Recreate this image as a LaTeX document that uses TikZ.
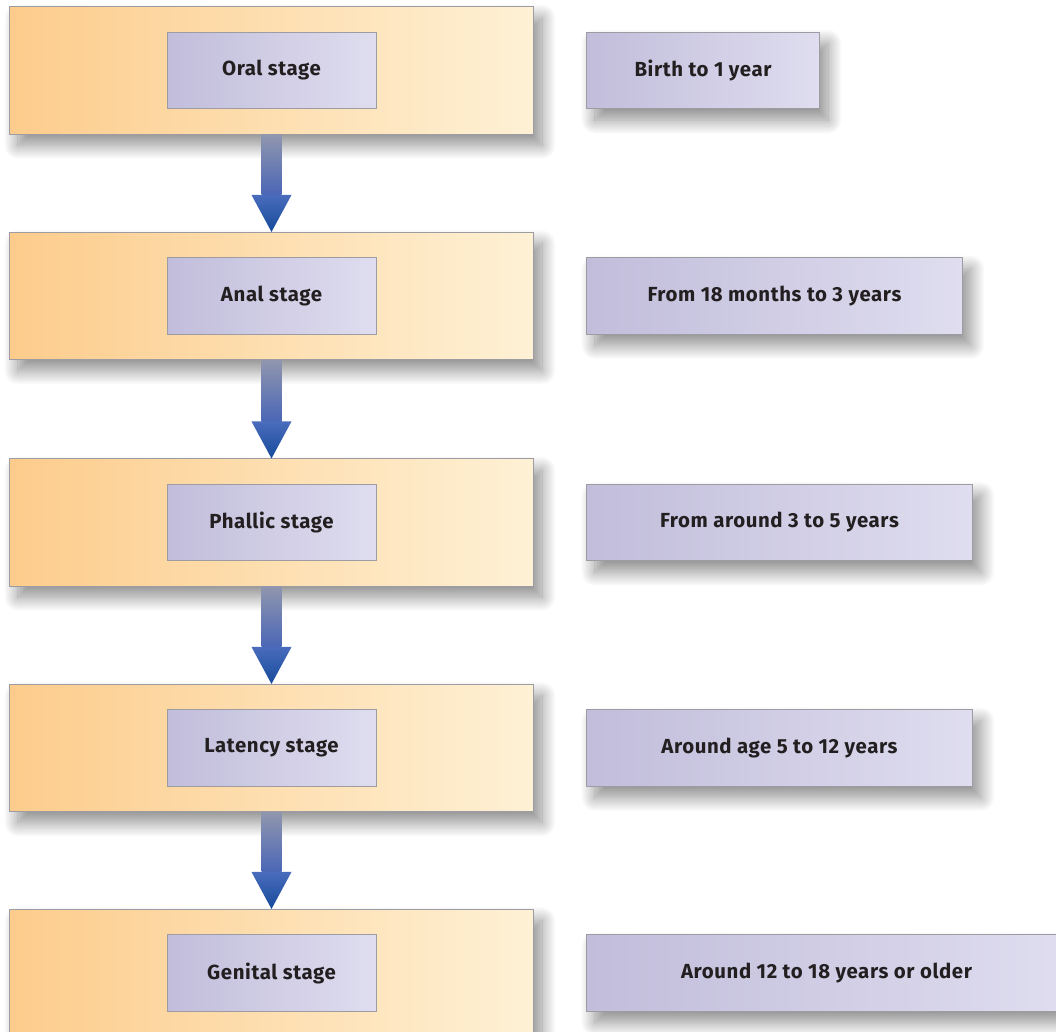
\documentclass[tikz,border=0pt]{standalone}
\usepackage{fontspec}
\setmainfont{Fira Sans}[LetterSpace=3]
\usetikzlibrary{positioning, calc, shadows.blur}

\definecolor{orangeL}{HTML}{FDCC8C}
\definecolor{orangeM}{HTML}{FDD193}
\definecolor{orangeR}{HTML}{FEF1D5}
\definecolor{lilacL}{HTML}{C1BDDB}
\definecolor{lilacR}{HTML}{DFDDEF}
\definecolor{frame}{HTML}{9C9CA2}
\definecolor{shaftT}{HTML}{9096AE}
\definecolor{shaftM}{HTML}{98A0CC}
\definecolor{shaftB}{HTML}{4A66B6}
\definecolor{headT}{HTML}{4A6CBC}
\definecolor{headB}{HTML}{164A9B}
\definecolor{ink}{HTML}{231F20}

\begin{document}
\begin{tikzpicture}[x=0.025cm, y=-0.025cm,
    % Node styles
    stagebox/.style={rectangle, draw=frame, line width=0.6pt,
                     left color=orangeL, middle color=orangeM, right color=orangeR,
                     minimum width=13.1cm, minimum height=3.18cm,
                     blur shadow={shadow xshift=6pt, shadow yshift=-8pt,
                                  shadow blur radius=10pt, shadow blur steps=25,
                                  shadow opacity=45}},
    stagename/.style={rectangle, draw=frame, line width=0.6pt,
                      left color=lilacL, right color=lilacR,
                      minimum width=5.22cm, minimum height=1.92cm,
                      text=ink, font=\fontsize{14.5}{16}\selectfont\bfseries},
    agebox/.style={rectangle, draw=frame, line width=0.6pt, anchor=west,
                   left color=lilacL, right color=lilacR, minimum height=1.92cm,
                   text=ink, font=\fontsize{14.5}{16}\selectfont\bfseries,
                   blur shadow={shadow xshift=6pt, shadow yshift=-8pt,
                                shadow blur radius=10pt, shadow blur steps=25,
                                shadow opacity=45}},
    shaft/.style={top color=shaftT, middle color=shaftM, bottom color=shaftB},
    head/.style={top color=headT, bottom color=headB}
]
\useasboundingbox (0,0) rectangle (1056,1031);
\clip (0,0) rectangle (1056,1031);

% Stages
\node[stagebox] (oral)    at (271.5,70.5)  {};
\node[stagebox] (anal)    at (271.5,296)   {};
\node[stagebox] (phallic) at (271.5,522.5) {};
\node[stagebox] (latency) at (271.5,748)   {};
\node[stagebox] (genital) at (271.5,973)   {};

% Stage names
\node[stagename] (oralname)    at (oral)    {Oral stage};
\node[stagename] (analname)    at (anal)    {Anal stage};
\node[stagename] (phallicname) at (phallic) {Phallic stage};
\node[stagename] (latencyname) at (latency) {Latency stage};
\node[stagename] (genitalname) at (genital) {Genital stage};

% Ages
\node[agebox, minimum width=5.83cm]  (oralage)    at (586,70.5)  {Birth to 1 year};
\node[agebox, minimum width=9.4cm]   (analage)    at (586,296)   {From 18 months to 3 years};
\node[agebox, minimum width=9.65cm]  (phallicage) at (586,522.5) {From around 3 to 5 years};
\node[agebox, minimum width=9.65cm]  (latencyage) at (586,748)   {Around age 5 to 12 years};
\node[agebox, minimum width=12cm]    (genitalage) at (586,973)   {Around 12 to 18 years or older};

% Arrows
\shade[shaft] ($(oral.south)+(-10,0)$) rectangle ($(anal.north)+(10,-37)$);
\shade[head]  ($(anal.north)+(-20,-37)$) -- ($(anal.north)+(20,-37)$) -- (anal.north) -- cycle;
\shade[shaft] ($(anal.south)+(-10,0)$) rectangle ($(phallic.north)+(10,-37)$);
\shade[head]  ($(phallic.north)+(-20,-37)$) -- ($(phallic.north)+(20,-37)$) -- (phallic.north) -- cycle;
\shade[shaft] ($(phallic.south)+(-10,0)$) rectangle ($(latency.north)+(10,-37)$);
\shade[head]  ($(latency.north)+(-20,-37)$) -- ($(latency.north)+(20,-37)$) -- (latency.north) -- cycle;
\shade[shaft] ($(latency.south)+(-10,0)$) rectangle ($(genital.north)+(10,-37)$);
\shade[head]  ($(genital.north)+(-20,-37)$) -- ($(genital.north)+(20,-37)$) -- (genital.north) -- cycle;

\end{tikzpicture}
\end{document}
